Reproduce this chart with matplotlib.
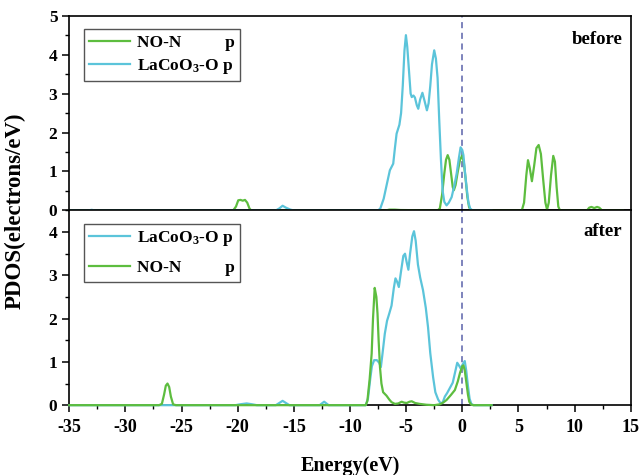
import matplotlib
matplotlib.use('Agg')
import matplotlib.pyplot as plt
from matplotlib.ticker import MultipleLocator

plt.rcParams['font.family'] = ['Liberation Serif', 'DejaVu Serif']
plt.rcParams['font.weight'] = 'bold'
plt.rcParams['axes.labelweight'] = 'bold'
plt.rcParams['axes.unicode_minus'] = False
plt.rcParams['mathtext.fontset'] = 'custom'
plt.rcParams['mathtext.rm'] = 'Liberation Serif:bold'
plt.rcParams['mathtext.it'] = 'Liberation Serif:bold'
plt.rcParams['mathtext.bf'] = 'Liberation Serif:bold'
plt.rcParams['mathtext.default'] = 'rm'

green = '#5dbd3f'
cyan = '#5bc4da'
fermi = '#5a62aa'

# before: NO-N p
top_n_e = [-35, -20.4, -20.15, -19.95, -19.75, -19.55, -19.35, -19.15, -18.95, -18.8,
           -6.8, -6.5, -6.0, -5.5, -2.2, -2.0, -1.8, -1.6, -1.45, -1.3, -1.15, -1.0,
           -0.85, -0.75, -0.6, -0.4, -0.2, 0.0, 0.15, 0.3, 0.45, 0.6, 0.75,
           5.3, 5.5, 5.7, 5.85, 6.0, 6.2, 6.4, 6.6, 6.8, 7.0, 7.2, 7.4, 7.55, 7.7,
           7.9, 8.1, 8.25, 8.4, 8.55, 8.7, 11.1, 11.3, 11.5, 11.75, 12.0, 12.2, 12.45, 14.3]
top_n_v = [0, 0, 0.1, 0.26, 0.27, 0.25, 0.27, 0.2, 0.05, 0,
           0, 0.02, 0.02, 0.01, 0, 0.05, 0.4, 0.95, 1.3, 1.42, 1.3, 0.95,
           0.6, 0.52, 0.65, 1.0, 1.3, 1.41, 1.2, 0.8, 0.35, 0.09, 0,
           0, 0.2, 0.9, 1.29, 1.1, 0.75, 1.15, 1.6, 1.68, 1.45, 0.8, 0.2, 0.02, 0.2,
           0.9, 1.4, 1.25, 0.6, 0.1, 0, 0, 0.07, 0.09, 0.06, 0.09, 0.07, 0, 0]

# before: LaCoO3-O p
top_o_e = [-35, -33.3, -33.0, -32.7, -16.6, -16.3, -16.0, -15.7, -15.3, -15.0,
           -7.5, -7.3, -7.0, -6.7, -6.45, -6.15, -6.0, -5.85, -5.6, -5.45, -5.3, -5.15,
           -5.02, -4.9, -4.75, -4.6, -4.5, -4.35, -4.22, -4.05, -3.92, -3.75, -3.55,
           -3.35, -3.15, -3.0, -2.85, -2.7, -2.5, -2.35, -2.2, -2.05, -1.9, -1.75,
           -1.6, -1.4, -1.2, -0.95, -0.7, -0.5, -0.3, -0.15, 0.0, 0.1, 0.25, 0.4,
           0.55, 0.7, 0.9, 2.6]
top_o_v = [0, 0, 0.015, 0, 0, 0.05, 0.12, 0.07, 0.02, 0,
           0, 0.05, 0.3, 0.7, 1.03, 1.2, 1.6, 1.97, 2.2, 2.5, 3.2, 4.1,
           4.5, 4.2, 3.6, 3.0, 2.91, 2.95, 2.9, 2.7, 2.61, 2.85, 3.02,
           2.8, 2.57, 2.75, 3.2, 3.75, 4.11, 3.9, 3.4, 2.3, 1.3, 0.5,
           0.22, 0.13, 0.2, 0.34, 0.65, 0.95, 1.35, 1.62, 1.55, 1.42, 0.95, 0.55,
           0.2, 0.05, 0, 0]

# after: LaCoO3-O p
bot_o_e = [-35, -20.2, -19.8, -19.2, -18.7, -18.3, -16.6, -16.3, -16.0, -15.7, -15.4,
           -12.7, -12.45, -12.3, -12.1, -11.9, -8.6, -8.4, -8.2, -8.05, -7.85, -7.6,
           -7.4, -7.25, -7.1, -6.9, -6.7, -6.5, -6.3, -6.1, -5.95, -5.8, -5.65, -5.45,
           -5.25, -5.1, -4.95, -4.8, -4.65, -4.45, -4.3, -4.15, -3.95, -3.75, -3.5,
           -3.25, -3.05, -2.85, -2.6, -2.4, -2.15, -1.95, -1.75, -1.55, -1.35, -1.1,
           -0.85, -0.65, -0.45, -0.3, -0.15, 0.05, 0.22, 0.35, 0.5, 0.65, 0.8, 1.0, 2.6]
bot_o_v = [0, 0, 0.02, 0.04, 0.02, 0, 0, 0.05, 0.1, 0.05, 0,
           0, 0.05, 0.08, 0.04, 0, 0, 0.15, 0.6, 0.9, 1.04, 1.04,
           0.98, 0.88, 1.2, 1.65, 1.95, 2.12, 2.3, 2.7, 2.93, 2.85, 2.73, 3.1,
           3.45, 3.5, 3.3, 3.13, 3.5, 3.9, 4.02, 3.8, 3.25, 2.95, 2.66,
           2.25, 1.8, 1.2, 0.65, 0.3, 0.13, 0.05, 0.06, 0.2, 0.28, 0.4,
           0.52, 0.75, 0.98, 0.92, 0.85, 0.95, 1.02, 0.8, 0.45, 0.15, 0.03, 0, 0]

# after: NO-N p
bot_n_e = [-35, -27.0, -26.75, -26.55, -26.4, -26.25, -26.1, -25.95, -25.75, -25.5,
           -8.6, -8.45, -8.25, -8.07, -7.95, -7.8, -7.65, -7.55, -7.45, -7.33, -7.2,
           -7.05, -6.75, -6.5, -6.3, -6.0, -5.7, -5.4, -5.2, -4.95, -4.7, -4.5, -4.2,
           -3.8, -3.2, -2.5, -2.0, -1.7, -1.4, -1.0, -0.66, -0.4, -0.2, 0.0, 0.1,
           0.22, 0.35, 0.5, 0.62, 0.8, 1.0, 2.6]
bot_n_v = [0, 0, 0.03, 0.25, 0.45, 0.5, 0.42, 0.2, 0.02, 0,
           0, 0.1, 0.6, 1.19, 2.0, 2.71, 2.5, 2.12, 1.5, 0.88, 0.5,
           0.3, 0.22, 0.13, 0.07, 0.03, 0.04, 0.08, 0.06, 0.05, 0.08, 0.09, 0.05,
           0.03, 0.01, 0.0, 0.02, 0.06, 0.12, 0.24, 0.35, 0.55, 0.75, 0.9, 0.92,
           0.8, 0.55, 0.25, 0.08, 0.01, 0, 0]

fig, (ax1, ax2) = plt.subplots(2, 1, figsize=(6.41, 4.75), dpi=100, sharex=True)
fig.subplots_adjust(left=0.108, right=0.984, top=0.967, bottom=0.147, hspace=0)

lw = 1.6
ax1.plot(top_n_e, top_n_v, color=green, lw=lw, label='NO-N          p', zorder=3, clip_on=False)
ax1.plot(top_o_e, top_o_v, color=cyan, lw=lw, label='LaCoO$_3$-O p', zorder=3, clip_on=False)
ax2.plot(bot_o_e, bot_o_v, color=cyan, lw=lw, label='LaCoO$_3$-O p', zorder=3, clip_on=False)
ax2.plot(bot_n_e, bot_n_v, color=green, lw=lw, label='NO-N          p', zorder=3, clip_on=False)

for ax, spacing in ((ax1, 0.35), (ax2, 0.7)):
    ax.axvline(0, color=fermi, lw=1.1, ls=(0, (4, 3)), zorder=2)
    ax.set_xlim(-35, 15)
    for s in ax.spines.values():
        s.set_linewidth(1.2)
    ax.tick_params(axis='y', which='major', direction='out', length=5, width=1.1, labelsize=12.5)
    ax.tick_params(axis='y', which='minor', direction='out', length=3, width=1.0)
    ax.yaxis.set_major_locator(MultipleLocator(1))
    ax.yaxis.set_minor_locator(MultipleLocator(0.5))
    ax.legend(loc='upper left', bbox_to_anchor=(0.01, 0.975), fontsize=12.5, frameon=True,
              fancybox=False, edgecolor='#555555', handlelength=2.4, handletextpad=0.4,
              borderpad=0.3, labelspacing=spacing, framealpha=1)

ax1.set_ylim(0, 5)
ax2.set_ylim(0, 4.5)
ax1.tick_params(axis='x', which='both', bottom=False)
ax2.xaxis.set_major_locator(MultipleLocator(5))
ax2.xaxis.set_minor_locator(MultipleLocator(2.5))
ax2.tick_params(axis='x', which='major', direction='out', length=5, width=1.1, labelsize=13, pad=5)
ax2.tick_params(axis='x', which='minor', direction='out', length=3, width=1.0)

ax1.text(0.985, 0.88, 'before', transform=ax1.transAxes, ha='right', va='center', fontsize=13.5)
ax2.text(0.985, 0.89, 'after', transform=ax2.transAxes, ha='right', va='center', fontsize=13.5)

fig.text(0.024, 0.557, 'PDOS(electrons/eV)', rotation=90, ha='center', va='center', fontsize=16.5)
ax2.set_xlabel('Energy(eV)', fontsize=14.5, labelpad=14)

fig.savefig('out.png', dpi=100)
